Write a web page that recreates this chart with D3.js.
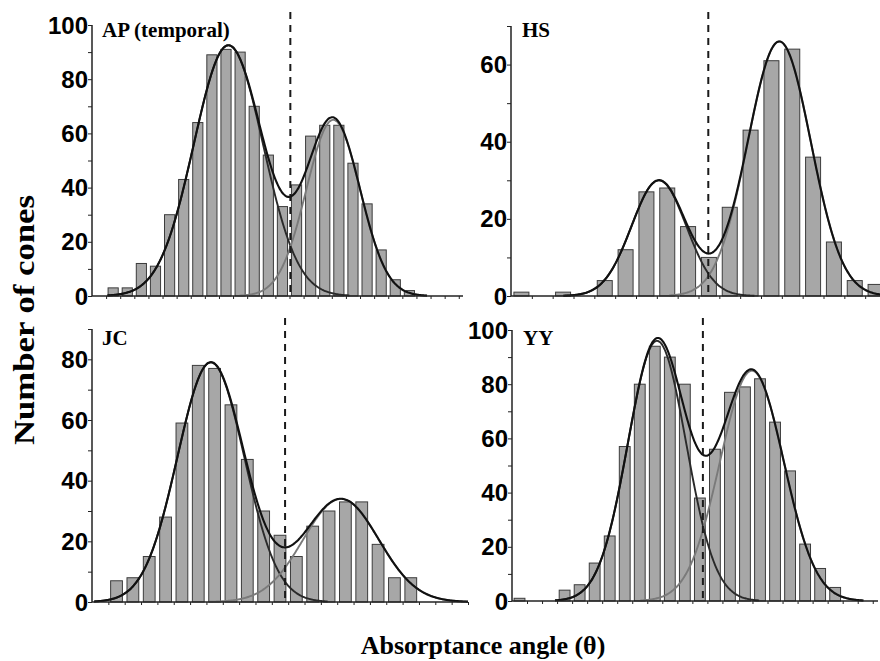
<!DOCTYPE html>
<html>
<head>
<meta charset="utf-8">
<script src="https://cdn.jsdelivr.net/npm/d3@7"></script>
<style>
  body { margin: 0; background: #fff; }
  svg { display: block; }
</style>
</head>
<body>
<svg id="chart" width="880" height="661"></svg>
<script>
// cones per absorptance-angle bin (bin 0 = left edge of the axis)
const apCounts = [0, 3, 3, 12, 11, 30, 43, 64, 89, 91, 90, 70, 52, 33, 41, 59, 63, 63, 49, 34, 17, 6, 2];
const hsCounts = [1, 0, 1, 0, 4, 12, 27, 28, 18, 10, 23, 43, 61, 64, 36, 14, 4, 3];
const jcCounts = [0, 7, 8, 15, 28, 59, 78, 77, 65, 47, 30, 22, 15, 25, 30, 33, 33, 19, 8, 8];
const yyCounts = [1, 0, 0, 4, 6, 14, 24, 57, 80, 94, 90, 80, 38, 56, 77, 79, 82, 66, 48, 21, 12, 5];

// two gaussian fits per subject: [peak, centre, sd] in bin units
const apFits = [[92.5, 9.67, 2.45], [65, 17.1, 1.9]];
const hsFits = [[30, 7.1, 1.31], [66, 12.88, 1.51]];
const jcFits = [[79, 7.27, 2.04], [34, 15.23, 2.31]];
const yyFits = [[96, 9.65, 1.94], [85, 15.96, 2.12]];

// dashed criterion line between the two cone classes (bin units)
const cuts = [14.06, 9.47, 11.81, 12.7];
const titles = ['AP (temporal)', 'HS', 'JC', 'YY'];
const yMaxes = [100, 70, 90, 100];
const yLabelMaxes = [100, 60, 80, 100];
const xMaxes = [26.3, 18, 23, 24.35];

const panels = [
  { counts: apCounts, fits: apFits, left: 92, right: 463, top: 25, bottom: 296, dashTop: 12, tx: 102, ty: 37 },
  { counts: hsCounts, fits: hsFits, left: 511, right: 886, top: 26, bottom: 296, dashTop: 12, tx: 522, ty: 37 },
  { counts: jcCounts, fits: jcFits, left: 92, right: 468, top: 329, bottom: 602, dashTop: 318, tx: 102, ty: 345 },
  { counts: yyCounts, fits: yyFits, left: 512, right: 878, top: 330, bottom: 601, dashTop: 318, tx: 523, ty: 345 }
];

const svg = d3.select('#chart');
const gauss = (f, t) => f[0] * Math.exp(-((t - f[1]) ** 2) / (2 * f[2] * f[2]));

panels.forEach((p, i) => {
  const x = d3.scaleLinear().domain([0, xMaxes[i]]).range([p.left, p.right]);
  const y = d3.scaleLinear().domain([0, yMaxes[i]]).range([p.bottom, p.top]);
  const g = svg.append('g');

  // bars
  g.selectAll('rect.bar')
    .data(p.counts.map((v, k) => ({ k, v })).filter(d => d.v > 0))
    .enter().append('rect')
    .attr('class', 'bar')
    .attr('x', d => x(d.k + 0.14))
    .attr('width', d => x(d.k + 0.86) - x(d.k + 0.14))
    .attr('y', d => y(d.v))
    .attr('height', d => y(0) - y(d.v))
    .attr('fill', '#a7a7a7')
    .attr('stroke', '#3c3c3c')
    .attr('stroke-width', 1);

  // fitted curves: each component over +-3.5 sd, then the sum
  const line = d3.line().x(d => x(d[0])).y(d => y(d[1])).curve(d3.curveBasis);
  const span = f => [Math.max(0, f[1] - 3.5 * f[2]), Math.min(xMaxes[i], f[1] + 3.5 * f[2])];
  const colours = ['#2a2a2a', '#7a7a7a'];
  p.fits.forEach((f, j) => {
    const [a, b] = span(f);
    const pts = d3.range(a, b, 0.05).concat([b]).map(t => [t, gauss(f, t)]);
    g.append('path').attr('d', line(pts))
      .attr('fill', 'none').attr('stroke', colours[j]).attr('stroke-width', 1.9);
  });
  const s0 = d3.min(p.fits, f => span(f)[0]);
  const s1 = d3.max(p.fits, f => span(f)[1]);
  const sumPts = d3.range(s0, s1, 0.05).concat([s1])
    .map(t => [t, d3.sum(p.fits, f => gauss(f, t))]);
  g.append('path').attr('d', line(sumPts))
    .attr('fill', 'none').attr('stroke', '#111').attr('stroke-width', 2.1);

  // axes
  const yAxis = g.append('g').attr('transform', `translate(${p.left},0)`)
    .call(d3.axisLeft(y).tickValues(d3.range(0, yMaxes[i] + 1, 10)).tickSize(4).tickFormat(''));
  const xAxis = g.append('g').attr('transform', `translate(0,${p.bottom})`)
    .call(d3.axisBottom(x).tickValues(d3.range(1, Math.floor(xMaxes[i]) + 1)).tickSize(3).tickFormat(''));
  [yAxis, xAxis].forEach(a => {
    a.select('.domain').attr('stroke', '#222').attr('stroke-width', 1.5);
    a.selectAll('.tick line').attr('stroke', '#222').attr('stroke-width', 1);
  });
  yAxis.select('.domain').attr('d', `M0,${p.bottom}V${p.top}`);
  xAxis.select('.domain').attr('d', `M${p.left},0H${p.right}`);

  g.selectAll('text.ylab')
    .data(d3.range(0, yLabelMaxes[i] + 1, 20))
    .enter().append('text')
    .attr('class', 'ylab')
    .attr('x', p.left - 4)
    .attr('y', d => y(d))
    .attr('dy', '0.36em')
    .attr('text-anchor', 'end')
    .style('font-family', '"Liberation Sans", Arial, sans-serif')
    .style('font-weight', 'bold')
    .style('font-size', '24px')
    .text(d => d);

  // dashed criterion
  g.append('line')
    .attr('x1', x(cuts[i])).attr('x2', x(cuts[i]))
    .attr('y1', p.dashTop).attr('y2', p.bottom)
    .attr('stroke', '#1a1a1a').attr('stroke-width', 2)
    .attr('stroke-dasharray', '7,6');

  g.append('text')
    .attr('x', p.tx).attr('y', p.ty)
    .style('font-family', '"Liberation Serif", "Times New Roman", serif')
    .style('font-weight', 'bold')
    .style('font-size', '21px')
    .text(titles[i]);
});

svg.append('text')
  .attr('transform', 'translate(34,320) rotate(-90)')
  .attr('text-anchor', 'middle')
  .attr('textLength', 250)
  .attr('lengthAdjust', 'spacingAndGlyphs')
  .style('font-family', '"Liberation Serif", "Times New Roman", serif')
  .style('font-weight', 'bold')
  .style('font-size', '30px')
  .text('Number of cones');

svg.append('text')
  .attr('x', 483).attr('y', 654)
  .attr('text-anchor', 'middle')
  .style('font-family', '"Liberation Serif", "Times New Roman", serif')
  .style('font-weight', 'bold')
  .style('font-size', '26px')
  .text('Absorptance angle (θ)');
</script>
</body>
</html>
